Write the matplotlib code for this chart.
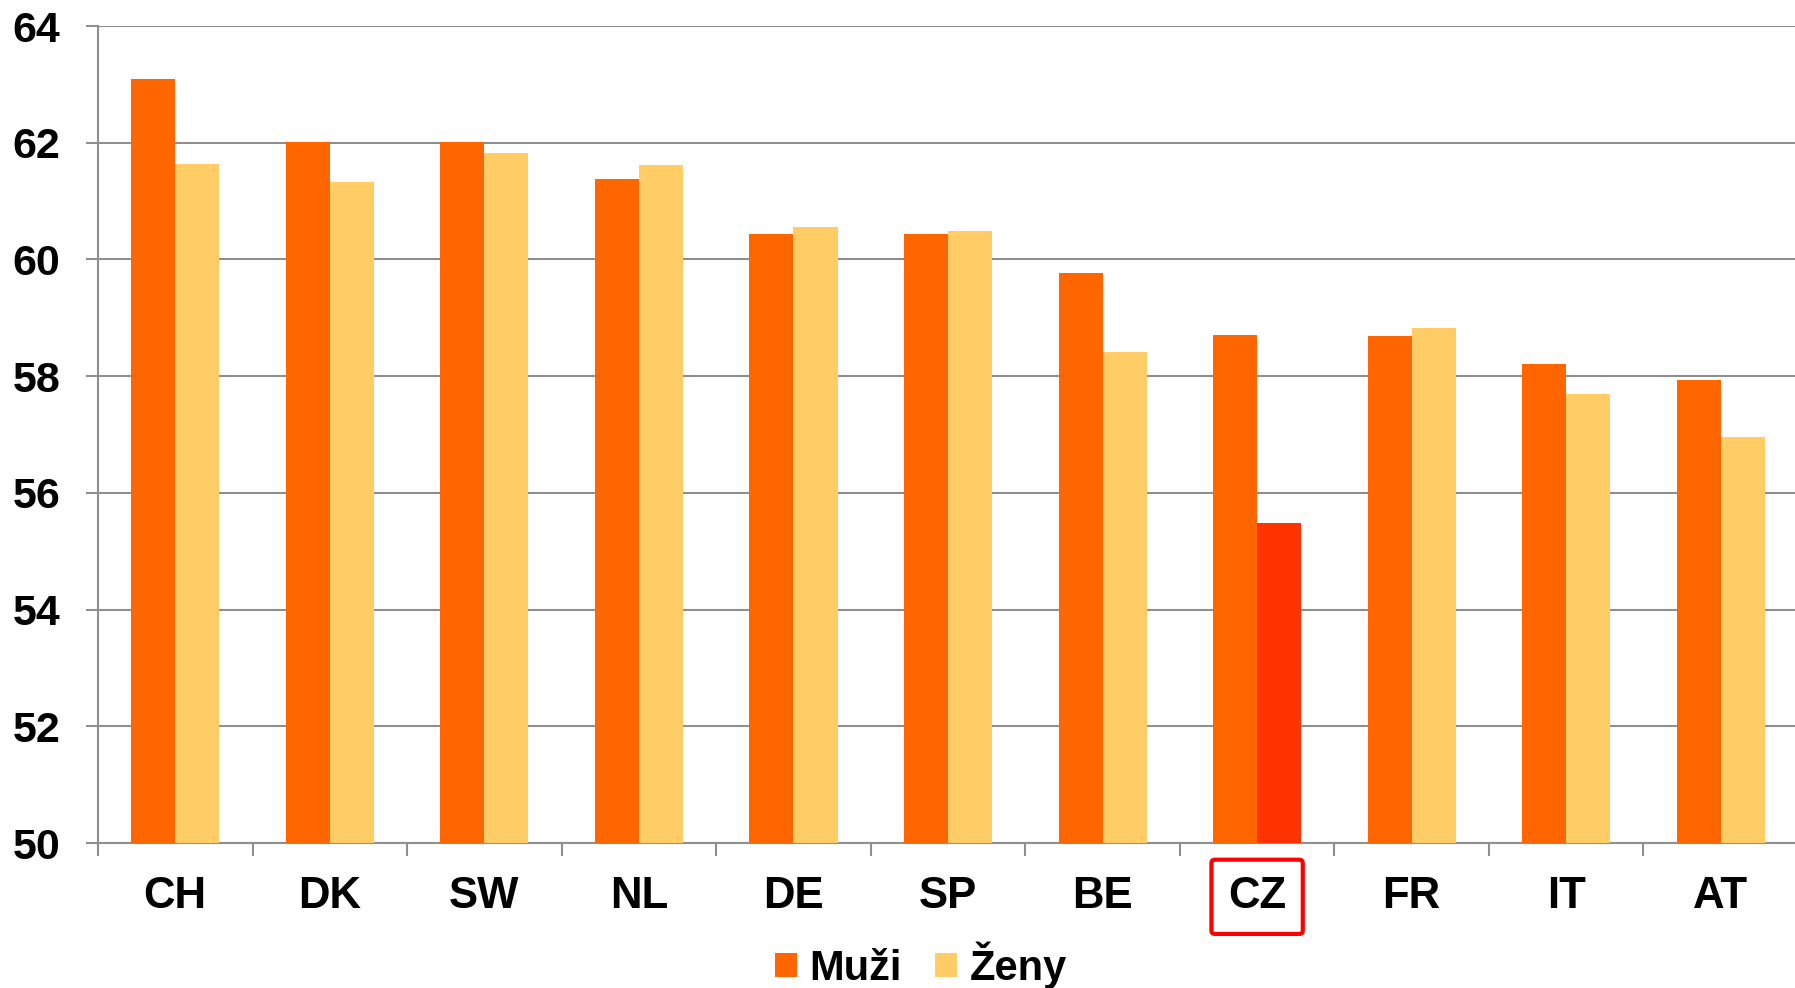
import matplotlib
matplotlib.use("Agg")
import matplotlib.pyplot as plt
import numpy as np
from matplotlib.patches import Patch
from matplotlib.ticker import FixedLocator

categories = ["CH", "DK", "SW", "NL", "DE", "SP", "BE", "CZ", "FR", "IT", "AT"]
muzi = [63.10, 62.02, 62.02, 61.37, 60.43, 60.43, 59.76, 58.71, 58.69, 58.20, 57.94]
zeny = [61.63, 61.33, 61.82, 61.61, 60.55, 60.49, 58.41, 55.49, 58.82, 57.69, 56.96]
yticks = [50, 52, 54, 56, 58, 60, 62, 64]
highlight = "CZ"

c_muzi = "#FF6600"
c_zeny = "#FFCC66"
c_high = "#FF3300"
grid_c = "#8f8f8f"

plt.rcParams['font.family'] = ['Liberation Sans', 'DejaVu Sans']
plt.rcParams['font.weight'] = 'bold'

fig = plt.figure(figsize=(17.95, 9.88), dpi=100)
ax = fig.add_axes([98/1795, 1-843/988, 1700/1795, (843-26)/988])

x = np.arange(len(categories))
w = 0.285
ax.bar(x - w/2, muzi, w, color=c_muzi, zorder=3)
zcols = [c_high if c == highlight else c_zeny for c in categories]
ax.bar(x + w/2, zeny, w, color=zcols, zorder=3)

ax.set_ylim(50, 64)
ax.set_xlim(-0.5, len(categories) - 0.5)
ax.set_yticks(yticks)
ax.set_yticklabels([str(t) for t in yticks], fontsize=31, fontweight='bold')
ax.yaxis.grid(True, color=grid_c, linewidth=1.5, zorder=0)
ax.set_axisbelow(True)

ax.set_xticks(x)
ax.set_xticklabels(categories, fontsize=31.5, fontweight='bold')
ax.xaxis.set_minor_locator(FixedLocator(np.arange(-0.5, len(categories), 1.0)))
ax.tick_params(axis='x', which='major', length=0, pad=24)
ax.tick_params(axis='x', which='minor', length=9, width=1.5, color=grid_c, direction='out')
ax.tick_params(axis='y', which='major', length=9, width=1.5, color=grid_c, direction='out', pad=18)

for s in ['top', 'right']:
    ax.spines[s].set_visible(False)
for s in ['left', 'bottom']:
    ax.spines[s].set_color(grid_c)
    ax.spines[s].set_linewidth(1.5)

for lbl in ax.get_xticklabels():
    if lbl.get_text() == highlight:
        lbl.set_bbox(dict(boxstyle='round,pad=0.38,rounding_size=0.08', facecolor='none',
                          edgecolor='#FF0000', linewidth=3))

handles = [Patch(facecolor=c_muzi, label='Muži'), Patch(facecolor=c_zeny, label='Ženy')]
fig.legend(handles=handles, loc='center', bbox_to_anchor=(921/1795, 1-965/988), ncol=2,
           frameon=False, prop={'size': 30, 'weight': 'bold'},
           handlelength=0.53, handleheight=0.53, handletextpad=0.29, columnspacing=0.8,
           borderpad=0, borderaxespad=0)

fig.savefig("out.png", dpi=100)
